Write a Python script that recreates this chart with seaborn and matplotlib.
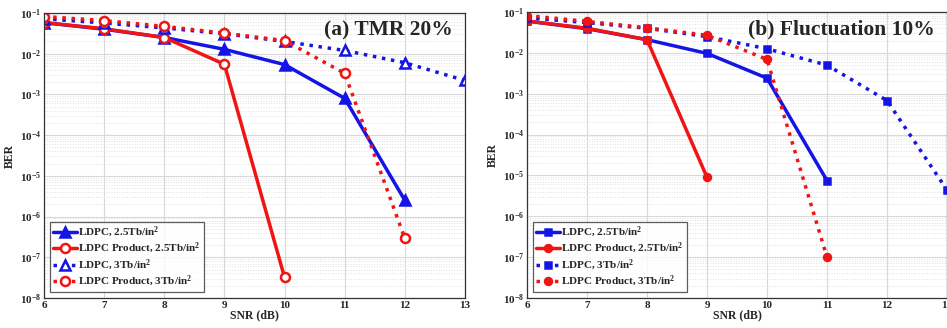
import numpy as np
import pandas as pd
import matplotlib
matplotlib.use("Agg")
import matplotlib.pyplot as plt
import matplotlib.ticker as mticker
import seaborn as sns

# SNR values (dB) and BER
snr_a_ldpc25 = [6, 7, 8, 9, 10, 11, 12]
ber_a_ldpc25 = [0.058, 0.040, 0.025, 0.0128, 0.0054, 8.0e-4, 2.5e-6]
snr_a_prod25 = [6, 7, 8, 9, 10]
ber_a_prod25 = [0.058, 0.041, 0.025, 0.0055, 3.2e-8]
snr_a_ldpc3 = [6, 7, 8, 9, 10, 11, 12, 13]
ber_a_ldpc3 = [0.072, 0.057, 0.043, 0.031, 0.020, 0.012, 0.006, 0.0022]
snr_a_prod3 = [6, 7, 8, 9, 10, 11, 12]
ber_a_prod3 = [0.082, 0.065, 0.047, 0.032, 0.021, 0.0033, 2.9e-7]

snr_b_ldpc25 = [6, 7, 8, 9, 10, 11]
ber_b_ldpc25 = [0.060, 0.039, 0.021, 0.0097, 0.0024, 7.5e-6]
snr_b_prod25 = [6, 7, 8, 9]
ber_b_prod25 = [0.060, 0.040, 0.021, 9.0e-6]
snr_b_ldpc3 = [6, 7, 8, 9, 10, 11, 12, 13]
ber_b_ldpc3 = [0.072, 0.055, 0.040, 0.025, 0.0126, 0.0050, 6.8e-4, 4.4e-6]
snr_b_prod3 = [6, 7, 8, 9, 10, 11]
ber_b_prod3 = [0.082, 0.059, 0.041, 0.027, 0.0069, 1.0e-7]

labels = [r'LDPC, 2.5Tb/in$^{2}$', r'LDPC Product, 2.5Tb/in$^{2}$',
          r'LDPC, 3Tb/in$^{2}$', r'LDPC Product, 3Tb/in$^{2}$']
panel_titles = ['(a) TMR 20%', '(b) Fluctuation 10%']

sns.set_theme(style='whitegrid')
plt.rcParams['font.family'] = ['Liberation Serif', 'DejaVu Serif']
plt.rcParams['font.weight'] = 'bold'
plt.rcParams['mathtext.fontset'] = 'custom'
plt.rcParams['mathtext.rm'] = 'Liberation Serif:bold'
plt.rcParams['mathtext.bf'] = 'Liberation Serif:bold'
plt.rcParams['mathtext.it'] = 'Liberation Serif:bold:italic'

BLUE = '#1414e6'
RED = '#f01414'

fig = plt.figure(figsize=(9.47, 3.28), dpi=100)
ax_a = fig.add_axes([44 / 947, 30 / 328, 421 / 947, 285 / 328])
ax_b = fig.add_axes([527 / 947, 30 / 328, 420 / 947, 286 / 328])

panels = [
    (ax_a, [(snr_a_ldpc25, ber_a_ldpc25), (snr_a_prod25, ber_a_prod25),
            (snr_a_ldpc3, ber_a_ldpc3), (snr_a_prod3, ber_a_prod3)],
     ['^', 'o', '^', 'o'], [6.5, 6.5, 6.5, 6.5], ['full', 'none', 'none', 'none']),
    (ax_b, [(snr_b_ldpc25, ber_b_ldpc25), (snr_b_prod25, ber_b_prod25),
            (snr_b_ldpc3, ber_b_ldpc3), (snr_b_prod3, ber_b_prod3)],
     ['s', 'o', 's', 'o'], [4, 5, 4, 5], ['full', 'full', 'full', 'full']),
]
colors = [BLUE, RED, BLUE, RED]
styles = ['-', '-', ':', ':']

for (ax, series, markers, msizes, fills), title in zip(panels, panel_titles):
    for (x, y), lab, c, ls, mk, ms, fs in zip(series, labels, colors, styles, markers, msizes, fills):
        sns.lineplot(x=x, y=y, ax=ax, color=c, linestyle=ls, linewidth=2.5,
                     marker=mk, markersize=ms, markeredgewidth=1.8,
                     markerfacecolor=(c if fs == 'full' else 'white'),
                     markeredgecolor=c, label=lab)
    ax.set_yscale('log')
    ax.set_xlim(6, 13)
    ax.set_ylim(1e-8, 1e-1)
    ax.set_xticks(range(6, 14))
    ax.yaxis.set_major_locator(mticker.LogLocator(base=10, numticks=10))
    ax.yaxis.set_minor_locator(mticker.LogLocator(base=10, subs=np.arange(2, 10), numticks=20))
    ax.yaxis.set_minor_formatter(mticker.NullFormatter())
    ax.grid(True, which='major', color='#d8d8d8', linewidth=0.8)
    ax.grid(True, which='minor', axis='y', color='#e0e0e0', linestyle=':', linewidth=0.7)
    ax.tick_params(axis='both', which='major', labelsize=8, pad=2, length=3,
                   direction='in', color='#444444')
    for sp in ax.spines.values():
        sp.set_color('#333333')
        sp.set_linewidth(0.9)
    ax.set_xlabel('SNR (dB)', fontsize=8.5, fontweight='bold', labelpad=0)
    ax.set_ylabel('BER', fontsize=8.5, fontweight='bold', labelpad=3)
    ax.text(0.972, 0.94, title, transform=ax.transAxes, ha='right', va='center',
            fontsize=15.5, fontweight='bold')
    leg = ax.legend(loc='lower left', fontsize=8, frameon=True, fancybox=False,
                    edgecolor='#333333', handlelength=2.2, handletextpad=0.1,
                    borderpad=0.3, labelspacing=0.12, borderaxespad=0.5)
    leg.get_frame().set_linewidth(0.9)
    for t in leg.get_texts():
        t.set_fontweight('bold')

fig.savefig('out.png', dpi=100)
